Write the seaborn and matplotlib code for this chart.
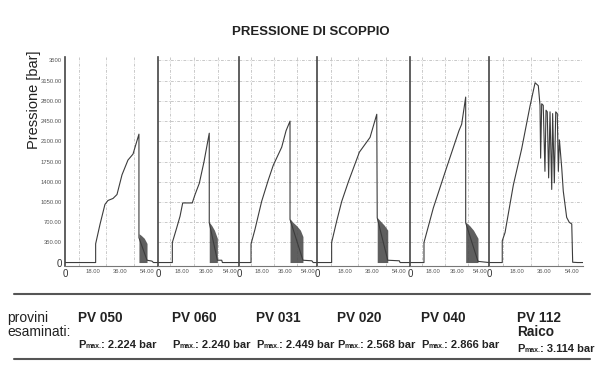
########################################################
# Required Python Packages
########################################################
import numpy as np
import pandas as pd
import seaborn as sns
import matplotlib.pyplot as plt
from matplotlib.lines import Line2D

########################################################
# Data
########################################################
samples = ["PV 050", "PV 060", "PV 031", "PV 020", "PV 040", "PV 112"]
sample_extra = ["", "", "", "", "", "Raico"]
pmax_values = ["2.224", "2.240", "2.449", "2.568", "2.866", "3.114"]

# time [s] / pressure [bar] of each trace
t_050 = [0, 20.1, 20.1, 23, 26.2, 28.2, 31.5, 34.1, 37.4, 41.3, 44.6, 48.5, 48.5, 53.8, 57, 58, 61]
p_050 = [0, 0, 324, 666, 1007, 1075, 1110, 1178, 1520, 1775, 1878, 2224, 430, 40, 25, 0, 0]
t_060 = [0, 10.8, 10.8, 14.1, 16.6, 18.6, 25.8, 27.9, 31.1, 34.6, 38.6, 38.6, 44.7, 48, 48.5, 61]
p_060 = [0, 0, 347, 602, 802, 1032, 1032, 1178, 1372, 1741, 2240, 690, 40, 40, 0, 0]
t_031 = [0, 9.4, 9.4, 12.5, 17.7, 22.9, 26.8, 33.4, 36.8, 39.9, 39.9, 50, 57, 58, 61]
p_031 = [0, 0, 319, 575, 1058, 1429, 1685, 1998, 2283, 2449, 746, 40, 30, 0, 0]
t_020 = [0, 9.6, 9.6, 12.9, 16.2, 20.6, 27.8, 34.8, 39.2, 39.5, 46.4, 54, 54.5, 61]
p_020 = [0, 0, 347, 717, 1058, 1400, 1912, 2168, 2568, 774, 40, 30, 0, 0]
t_040 = [0, 10.8, 10.8, 18, 28, 37.8, 39.9, 43, 43, 52.5, 61]
p_040 = [0, 0, 347, 945, 1627, 2283, 2396, 2866, 688, 20, 0]
t_112 = [0, 8.6, 8.6, 10.4, 15.8, 21.2, 26.6, 29.9, 32, 33.1, 33.5, 34.2, 35.2, 36.3, 37, 37.8,
         38.7, 39.6, 40.7, 41.3, 42.4, 43.3, 44.3, 45, 45.7, 47.2, 48.2, 49.3, 50.4, 52.1, 53.7,
         54.3, 57.5, 61]
p_112 = [0, 0, 376, 518, 1343, 1969, 2709, 3114, 3063, 2723, 1808, 2750, 2723, 1580, 2638, 2610,
         1466, 2610, 1266, 2580, 1380, 2610, 2580, 1580, 2124, 1637, 1237, 1010, 782, 696, 668,
         5, 0, 0]

# envelope of the dense oscillation after burst (dark band)
band_t_050 = [48.5, 50, 52, 53.8]
band_p_050 = [500, 470, 420, 330]
band_t_060 = [38.6, 40.5, 42.5, 44.7]
band_p_060 = [700, 640, 560, 420]
band_t_031 = [39.9, 42, 45, 48, 50]
band_p_031 = [760, 700, 640, 560, 450]
band_t_020 = [39.5, 41.5, 44, 46.4]
band_p_020 = [780, 720, 650, 560]
band_t_040 = [43, 46, 49, 52.5]
band_p_040 = [700, 640, 560, 420]
band_t_112 = []
band_p_112 = []

traces = [(t_050, p_050), (t_060, p_060), (t_031, p_031),
          (t_020, p_020), (t_040, p_040), (t_112, p_112)]
bands = [(band_t_050, band_p_050), (band_t_060, band_p_060), (band_t_031, band_p_031),
         (band_t_020, band_p_020), (band_t_040, band_p_040), (band_t_112, band_p_112)]

y_ticks = [0, 350, 700, 1050, 1400, 1750, 2100, 2450, 2800, 3150, 3500]
y_ticklabels = ["0", "350.00", "700.00", "1050.00", "1400.00", "1750.00",
                "2100.00", "2450.00", "2800.00", "3150.00", "3500"]
x_ticks = [0, 18, 36, 54]
x_ticklabels = ["0", "18.00", "36.00", "54.00"]

########################################################
# Layout (pixels of a 600x376 canvas)
########################################################
W, H = 600, 376
panel_left = [65, 158, 239, 317, 410, 489]
panel_width = [93, 81, 78, 93, 79, 94]
label_x = [78, 172, 256, 337, 421, 517]

sns.set_style("white")
plt.rcParams['font.family'] = ['Liberation Sans', 'DejaVu Sans']

fig = plt.figure(figsize=(W / 100, H / 100), dpi=100)

LINE = "#3c3c3c"
GRID = "#b4b4b4"

for i, ((t, p), (bt, bp)) in enumerate(zip(traces, bands)):
    ax = fig.add_axes([panel_left[i] / W, 1 - 266 / H, panel_width[i] / W, 209 / H])
    df = pd.DataFrame({"t": t, "p": p})
    sns.lineplot(data=df, x="t", y="p", ax=ax, sort=False, estimator=None,
                 color=LINE, linewidth=0.8)
    if bt:
        ax.fill_between(bt, 0, bp, color="#4d4d4d", alpha=0.9, linewidth=0)

    ax.set_xlim(0, 61)
    ax.set_ylim(-60, 3560)
    ax.set_xlabel("")
    ax.set_ylabel("")

    # dash-dot grid like the plotter paper
    ax.set_xticks(np.arange(0, 61, 9), minor=True)
    ax.set_yticks(y_ticks[1:], minor=True)
    ax.grid(True, which="minor", color=GRID, linestyle=(0, (4, 2, 1, 2)), linewidth=0.5)

    ax.set_xticks(x_ticks)
    ax.set_xticklabels(x_ticklabels, fontsize=4.2, color="#555")
    ax.get_xticklabels()[0].set_fontsize(7)
    ax.get_xticklabels()[0].set_color("#333")
    if i == 0:
        ax.set_yticks(y_ticks)
        ax.set_yticklabels(y_ticklabels, fontsize=4.2, color="#555")
        ax.get_yticklabels()[0].set_fontsize(7)
        ax.get_yticklabels()[0].set_color("#333")
    else:
        ax.set_yticks([])
    ax.tick_params(length=0, pad=2.5)

    for side in ["top", "right"]:
        ax.spines[side].set_visible(False)
    ax.spines["left"].set_color("#444")
    ax.spines["left"].set_linewidth(1.2)
    ax.spines["bottom"].set_color("#777")
    ax.spines["bottom"].set_linewidth(0.8)
    ax.patch.set_alpha(0)

########################################################
# Titles and the bottom table
########################################################
fig.text(311 / W, 1 - 32 / H, "PRESSIONE DI SCOPPIO", ha="center", va="center",
         fontsize=9.5, fontweight="bold", color="#222")
fig.text(34 / W, 1 - 100 / H, "Pressione [bar]", rotation=90, ha="center", va="center",
         fontsize=10.5, color="#222")

for y in [294, 359]:
    fig.add_artist(Line2D([14 / W, 590 / W], [1 - y / H, 1 - y / H], color="#555", linewidth=1.5))

fig.text(7 / W, 1 - 322 / H, "provini", fontsize=10, color="#222", va="baseline")
fig.text(7 / W, 1 - 336 / H, "esaminati:", fontsize=10, color="#222", va="baseline")

renderer = fig.canvas.get_renderer()
for i, name in enumerate(samples):
    x0 = label_x[i] / W
    fig.text(x0, 1 - 322 / H, name, fontsize=9.8, fontweight="bold", color="#222", va="baseline")
    base = 348
    if sample_extra[i]:
        fig.text(x0, 1 - 336 / H, sample_extra[i], fontsize=9.8, fontweight="bold",
                 color="#222", va="baseline")
        base = 352
    yb = 1 - base / H
    x = x0
    for txt, size in [("P", 8), ("max.", 5), (": " + pmax_values[i] + " bar", 8)]:
        tt = fig.text(x, yb, txt, fontsize=size, fontweight="bold", color="#222",
                      va="baseline", fontstretch="condensed")
        x += tt.get_window_extent(renderer).width / W

fig.savefig("out.png", dpi=100, facecolor="white")
